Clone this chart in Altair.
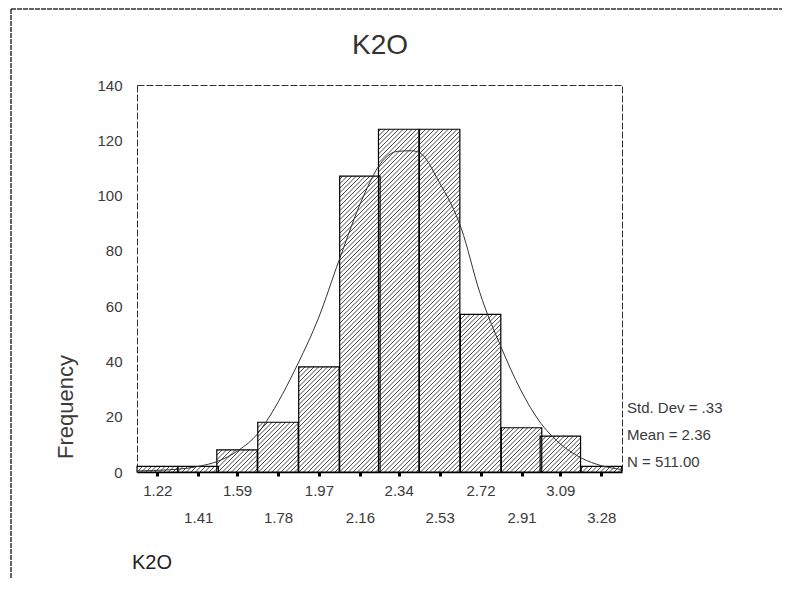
import math
import altair as alt
import pandas as pd

# ---- data ----
bin_centers = [1.22, 1.41, 1.59, 1.78, 1.97, 2.16, 2.34, 2.53, 2.72, 2.91, 3.09, 3.28]
bin_counts = [2, 2, 8, 18, 38, 107, 124, 124, 57, 16, 13, 2]
bin_width = 0.1875

curve_x = [1.126, 1.278, 1.422, 1.494, 1.598, 1.687, 1.727, 1.874, 1.967, 2.063,
           2.175, 2.255, 2.335, 2.399, 2.439, 2.527, 2.631, 2.716, 2.816, 2.904,
           3.0, 3.056, 3.189, 3.28, 3.376]
curve_y = [0.4, 0.8, 2.2, 3.7, 7.9, 14.0, 18.4, 39.4, 55.5, 76.5,
           99.5, 111.5, 116.0, 116.2, 115.4, 105.0, 88.0, 65.0, 45.0, 30.0,
           17.6, 12.6, 5.0, 2.3, 0.9]

stats_lines = ["Std. Dev = .33", "Mean = 2.36", "N = 511.00"]
second_row = [1.41, 1.78, 2.16, 2.53, 2.91, 3.28]
y_ticks = [0, 20, 40, 60, 80, 100, 120, 140]

# ---- layout ----
W, H = 485, 387
XMIN, XMAX = 1.126, 3.376
YMAX = 140
FONT = "Liberation Sans"
TXT = "#3a3a3a"

bars = pd.DataFrame({
    "x0": [c - bin_width / 2 for c in bin_centers],
    "x1": [c + bin_width / 2 for c in bin_centers],
    "count": bin_counts,
})

# diagonal hatching inside each bar (derived from the bars, through the scales)
sx = W / (XMAX - XMIN)
sy = H / YMAX
step = 4.5
segs = []
for a, b, n in zip(bars.x0, bars.x1, bars["count"]):
    X0, X1, Hb = (a - XMIN) * sx, (b - XMIN) * sx, n * sy
    k0 = math.floor(-X1 / step) - 1
    k1 = math.ceil((Hb - X0) / step) + 1
    for k in range(k0, k1 + 1):
        c = k * step
        xs = max(X0, -c)
        xe = min(X1, Hb - c)
        if xe - xs > 0.4:
            segs.append({
                "hx": xs / sx + XMIN, "hy": (xs + c) / sy,
                "hx2": xe / sx + XMIN, "hy2": (xe + c) / sy,
            })
hatch = pd.DataFrame(segs)
curve = pd.DataFrame({"x": curve_x, "y": curve_y})

xscale = alt.Scale(domain=[XMIN, XMAX], nice=False, zero=False)
yscale = alt.Scale(domain=[0, YMAX], nice=False)

label_expr = ("indexof([" + ",".join(str(v) for v in second_row) +
              "], datum.value) >= 0 ? ['', datum.label] : datum.label")
x_axis = alt.Axis(values=bin_centers, format=".2f", labelExpr=label_expr,
                  title=None, grid=False, domain=True, domainColor="black",
                  domainWidth=1.5, ticks=True, tickSize=4, tickWidth=3,
                  tickColor="black", labelPadding=7, labelLineHeight=27,
                  labelFontSize=15, labelFont=FONT, labelColor=TXT,
                  labelOverlap=False, labelFlush=False)
y_axis = alt.Axis(values=y_ticks, title=None, grid=False, domain=False,
                  ticks=False, labelPadding=15, labelFontSize=15,
                  labelFont=FONT, labelColor=TXT)

fill_layer = alt.Chart(bars).mark_rect(fill="white").encode(
    x=alt.X("x0:Q", scale=xscale, axis=x_axis),
    x2="x1:Q",
    y=alt.Y("count:Q", scale=yscale, axis=y_axis),
    y2=alt.datum(0),
)

hatch_layer = alt.Chart(hatch).mark_rule(color="#4a4a4a", strokeWidth=1).encode(
    x=alt.X("hx:Q", scale=xscale, axis=x_axis),
    x2="hx2:Q",
    y=alt.Y("hy:Q", scale=yscale, axis=y_axis),
    y2="hy2:Q",
)

outline_layer = alt.Chart(bars).mark_rect(fill=None, stroke="black",
                                          strokeWidth=1.2, fillOpacity=0).encode(
    x=alt.X("x0:Q", scale=xscale, axis=x_axis),
    x2="x1:Q",
    y=alt.Y("count:Q", scale=yscale, axis=y_axis),
    y2=alt.datum(0),
)

curve_layer = alt.Chart(curve).mark_line(color="#333333", strokeWidth=1,
                                         interpolate="monotone").encode(
    x=alt.X("x:Q", scale=xscale, axis=x_axis),
    y=alt.Y("y:Q", scale=yscale, axis=y_axis),
)


def label(text, x, y, size, align="center", angle=0, color=TXT):
    kw = dict(align=align, baseline="middle", fontSize=size, font=FONT, color=color)
    if angle:
        kw["angle"] = angle
    return alt.Chart(pd.DataFrame({"t": [text]})).mark_text(**kw).encode(
        text="t:N", x=alt.value(x), y=alt.value(y))


texts = [
    label("K2O", 243, -39, 28, color="#333333"),
    label("Frequency", -71, 322, 22, angle=270),
    label("K2O", -5, 478, 20, align="left", color="#222222"),
]
for i, s in enumerate(stats_lines):
    texts.append(label(s, 490, 323 + 27 * i, 15, align="left"))

border_df = pd.DataFrame({"k": [0]})
border_left = alt.Chart(border_df).mark_rule(color="#333333", strokeWidth=1.5,
                                              strokeDash=[5, 1]).encode(
    x=alt.value(-126), y=alt.value(-76), y2=alt.value(520))
border_top = alt.Chart(border_df).mark_rule(color="#333333", strokeWidth=1.5,
                                             strokeDash=[5, 1]).encode(
    x=alt.value(-126), x2=alt.value(660), y=alt.value(-76))

chart = alt.layer(
    fill_layer, hatch_layer, outline_layer, curve_layer,
    border_left, border_top, *texts
).properties(
    width=W, height=H,
    autosize=alt.AutoSizeParams(type="none"),
    padding={"left": 129, "top": 77, "right": 160, "bottom": 106},
    background="white",
).configure_view(
    stroke="#333333", strokeDash=[7, 2], strokeWidth=1
)

chart.save("out.html", embed_options={"renderer": "svg", "actions": False})
